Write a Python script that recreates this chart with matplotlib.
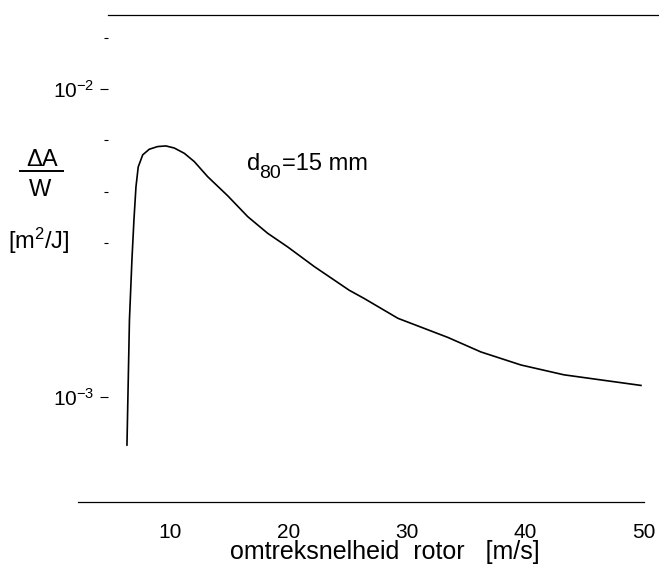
import matplotlib
matplotlib.use('Agg')
import matplotlib.pyplot as plt
from matplotlib.lines import Line2D

# curve: circumferential rotor speed [m/s] vs dA/W [m2/J]
speed = [6.37, 6.58, 6.79, 6.96, 7.13, 7.32, 7.70, 8.25, 8.96, 9.66, 10.36,
         11.21, 12.05, 13.18, 14.87, 16.56, 18.24, 19.93, 22.18, 25.13, 26.37,
         29.24, 33.46, 36.24, 39.62, 43.25, 49.75]
area_per_work = [6.98e-4, 1.78e-3, 2.79e-3, 3.76e-3, 4.81e-3, 5.58e-3, 6.11e-3,
                 6.37e-3, 6.50e-3, 6.53e-3, 6.43e-3, 6.18e-3, 5.81e-3, 5.19e-3,
                 4.50e-3, 3.85e-3, 3.40e-3, 3.07e-3, 2.65e-3, 2.22e-3, 2.09e-3,
                 1.80e-3, 1.56e-3, 1.40e-3, 1.27e-3, 1.18e-3, 1.09e-3]

x_ticks = [10, 20, 30, 40, 50]
y_major = [1e-2, 1e-3]
y_major_labels = ['$10^{-2}$', '$10^{-3}$']
y_minor = [10 ** (-2 + 1 / 6), 10 ** (-2 - 1 / 6), 10 ** (-2 - 2 / 6), 10 ** (-2 - 3 / 6)]

plt.rcParams['font.family'] = ['Liberation Sans', 'DejaVu Sans']
plt.rcParams['mathtext.fontset'] = 'custom'
plt.rcParams['mathtext.rm'] = 'Liberation Sans'
plt.rcParams['mathtext.it'] = 'Liberation Sans'
plt.rcParams['mathtext.default'] = 'regular'

W, H = 659, 581
fig = plt.figure(figsize=(W / 100, H / 100), dpi=100)
ax = fig.add_axes([108 / W, 1 - 502 / H, (659 - 108) / W, (502 - 15) / H])

ax.plot(speed, area_per_work, color='black', lw=1.2)

ax.set_yscale('log')
ax.set_xlim(4.77, 51.27)
ax.set_ylim(10 ** -3.341, 10 ** -1.760)

for s in ['left', 'right']:
    ax.spines[s].set_visible(False)
ax.spines['top'].set_linewidth(0.9)
ax.spines['bottom'].set_linewidth(0.9)
ax.spines['top'].set_bounds(4.77, 51.27)
ax.spines['bottom'].set_bounds(2.2, 50.0)

ax.set_xticks(x_ticks)
ax.set_xticklabels([str(t) for t in x_ticks])
ax.tick_params(axis='x', length=0, pad=15, labelsize=15)

ax.set_yticks(y_major)
ax.set_yticklabels(y_major_labels)
ax.set_yticks(y_minor, minor=True)
ax.yaxis.set_minor_formatter(plt.NullFormatter())
ax.tick_params(axis='y', which='major', length=6, width=0.8, pad=4, labelsize=15)
ax.tick_params(axis='y', which='minor', length=3, width=0.8)


def px_text(x, y, s, size, **kw):
    fig.text(x / W, 1 - y / H, s, fontsize=size, **kw)


# curve annotation: d80 = 15 mm
px_text(247, 170, 'd', 17, va='baseline')
px_text(259, 178, '80', 14, va='baseline')
px_text(282, 170, '=15 mm', 17, va='baseline')

# x label
px_text(385, 552, 'omtreksnelheid  rotor   [m/s]', 18, ha='center', va='center')

# y label as a fraction
px_text(42, 160, '\u0394A', 17, ha='center', va='center')
fig.add_artist(Line2D([20 / W, 63 / W], [1 - 171 / H, 1 - 171 / H],
                      color='black', lw=1.4))
px_text(40, 190, 'W', 17, ha='center', va='center')
px_text(39, 241, '[m$^2$/J]', 17, ha='center', va='center')

fig.savefig('out.png', dpi=100)
